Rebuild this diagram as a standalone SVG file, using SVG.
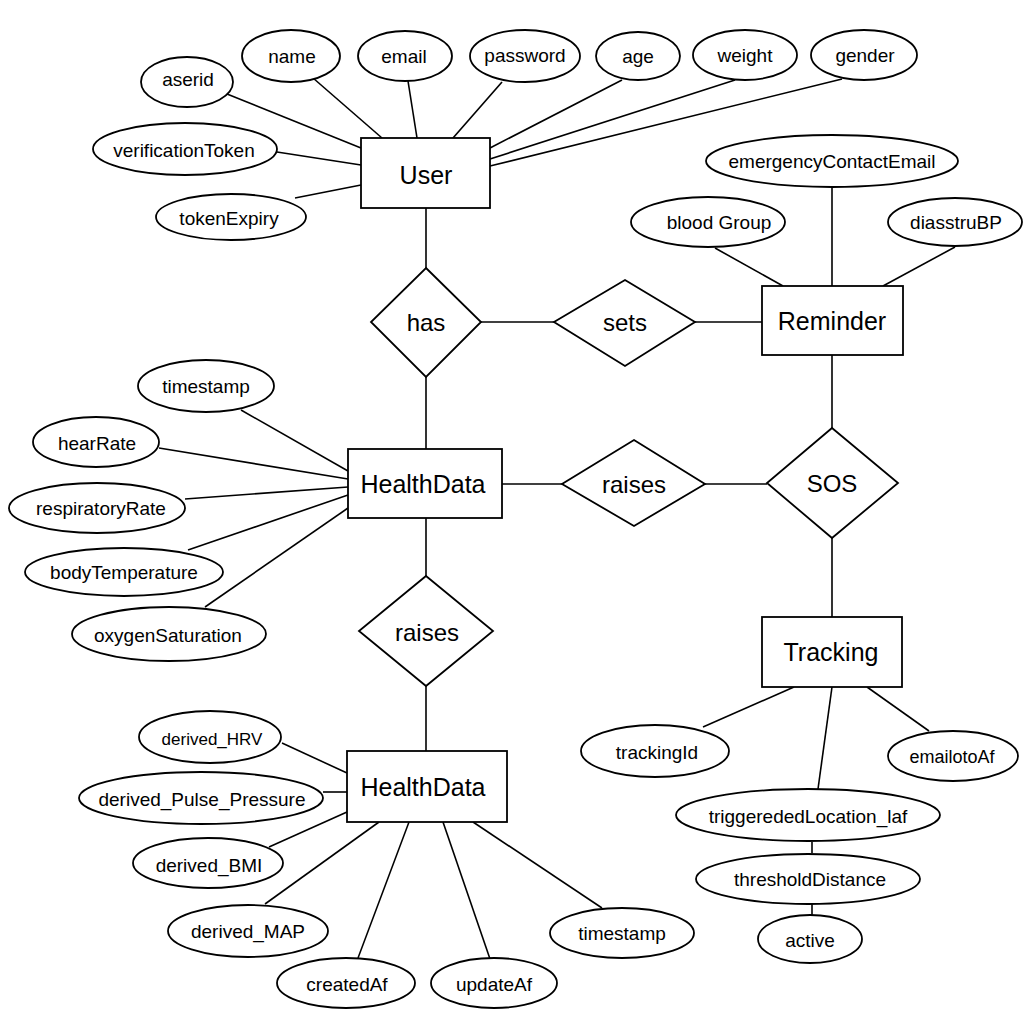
<svg xmlns="http://www.w3.org/2000/svg" width="1024" height="1024" viewBox="0 0 1024 1024">
<style>
  .bg { fill: #ffffff; }
  .ent rect { fill: #ffffff; stroke: #000; stroke-width: 1.8; }
  .rel polygon { fill: #ffffff; stroke: #000; stroke-width: 1.8; }
  .att ellipse { fill: #ffffff; stroke: #000; stroke-width: 1.8; }
  #connectors line { stroke: #000; stroke-width: 1.6; }
  text { font-family: "Liberation Sans", Arial, Helvetica, sans-serif; fill: #000; text-anchor: middle; dominant-baseline: central; }
  .et { font-size: 25px; }
  .rt { font-size: 24px; }
  .at { font-size: 19px; }
</style>
<rect class="bg" x="0" y="0" width="1024" height="1024"/>

<g id="connectors">
  <!-- User attributes -->
  <line x1="227" y1="94" x2="361" y2="148"/>
  <line x1="313" y1="78" x2="382" y2="138"/>
  <line x1="408" y1="81" x2="417" y2="138"/>
  <line x1="502" y1="82" x2="453" y2="138"/>
  <line x1="622" y1="80" x2="490" y2="148"/>
  <line x1="735" y1="80" x2="490" y2="159"/>
  <line x1="842" y1="79" x2="490" y2="166"/>
  <line x1="277" y1="152" x2="361" y2="165"/>
  <line x1="295" y1="198" x2="361" y2="185"/>
  <!-- Reminder attributes -->
  <line x1="832" y1="187" x2="832" y2="286"/>
  <line x1="715" y1="248" x2="783" y2="286"/>
  <line x1="955" y1="247" x2="883" y2="286"/>
  <!-- relationships -->
  <line x1="426" y1="208" x2="426" y2="268"/>
  <line x1="481" y1="322" x2="554" y2="322"/>
  <line x1="695" y1="322" x2="762" y2="322"/>
  <line x1="426" y1="377" x2="426" y2="449"/>
  <line x1="502" y1="484" x2="562" y2="484"/>
  <line x1="705" y1="484" x2="767" y2="484"/>
  <line x1="832" y1="355" x2="832" y2="428"/>
  <line x1="832" y1="538" x2="832" y2="617"/>
  <line x1="426" y1="518" x2="426" y2="576"/>
  <line x1="426" y1="686" x2="426" y2="751"/>
  <!-- HealthData attributes -->
  <line x1="241" y1="410" x2="348" y2="471"/>
  <line x1="159" y1="448" x2="348" y2="479"/>
  <line x1="185" y1="499" x2="348" y2="487"/>
  <line x1="188" y1="550" x2="348" y2="495"/>
  <line x1="205" y1="607" x2="348" y2="508"/>
  <!-- HealthData 2 attributes -->
  <line x1="282" y1="743" x2="347" y2="773"/>
  <line x1="323" y1="792" x2="347" y2="792"/>
  <line x1="269" y1="847" x2="347" y2="812"/>
  <line x1="265" y1="904" x2="379" y2="822"/>
  <line x1="358" y1="958" x2="409" y2="822"/>
  <line x1="490" y1="959" x2="443" y2="822"/>
  <line x1="602" y1="908" x2="473" y2="822"/>
  <!-- Tracking attributes -->
  <line x1="703" y1="727" x2="794" y2="687"/>
  <line x1="929" y1="731" x2="867" y2="687"/>
  <line x1="818" y1="789" x2="832" y2="687"/>
  <line x1="812" y1="842" x2="812" y2="853"/>
  <line x1="812" y1="904" x2="812" y2="915"/>
</g>

<!-- Entities -->
<g id="user" class="ent"><rect x="361" y="138" width="129" height="70"/><text class="et" x="426" y="175">User</text></g>
<g id="reminder" class="ent"><rect x="762" y="286" width="141" height="69"/><text class="et" x="832" y="321">Reminder</text></g>
<g id="healthdata" class="ent"><rect x="348" y="449" width="154" height="69"/><text class="et" x="423" y="484">HealthData</text></g>
<g id="tracking" class="ent"><rect x="762" y="617" width="140" height="70"/><text class="et" x="831" y="652">Tracking</text></g>
<g id="healthdata2" class="ent"><rect x="347" y="751" width="160" height="71"/><text class="et" x="423" y="787">HealthData</text></g>

<!-- Relationships -->
<g id="has" class="rel"><polygon points="426,268 481,322 426,377 371,322"/><text class="rt" x="426" y="322">has</text></g>
<g id="sets" class="rel"><polygon points="625,280 695,322 625,366 554,322"/><text class="rt" x="625" y="322">sets</text></g>
<g id="raises1" class="rel"><polygon points="634,440 705,484 634,526 562,484"/><text class="rt" x="634" y="484">raises</text></g>
<g id="sos" class="rel"><polygon points="832,428 898,483 832,538 767,483"/><text class="rt" x="832" y="483">SOS</text></g>
<g id="raises2" class="rel"><polygon points="426,576 493,631 426,686 359,631"/><text class="rt" x="427" y="632">raises</text></g>

<!-- User attributes -->
<g id="a-aserid" class="att"><ellipse cx="187" cy="82" rx="46" ry="25"/><text class="at" x="188" y="79">aserid</text></g>
<g id="a-name" class="att"><ellipse cx="291" cy="56" rx="49" ry="26"/><text class="at" x="292" y="56">name</text></g>
<g id="a-email" class="att"><ellipse cx="405" cy="56" rx="47" ry="25"/><text class="at" x="404" y="56">email</text></g>
<g id="a-password" class="att"><ellipse cx="525" cy="56" rx="55" ry="26"/><text class="at" x="525" y="55">password</text></g>
<g id="a-age" class="att"><ellipse cx="638" cy="56" rx="42" ry="24"/><text class="at" x="638" y="56">age</text></g>
<g id="a-weight" class="att"><ellipse cx="745" cy="55" rx="52" ry="25"/><text class="at" x="745" y="55">weight</text></g>
<g id="a-gender" class="att"><ellipse cx="864" cy="55" rx="53" ry="25"/><text class="at" x="865" y="55">gender</text></g>
<g id="a-verificationToken" class="att"><ellipse cx="185" cy="149" rx="92" ry="26"/><text class="at" x="184" y="150">verificationToken</text></g>
<g id="a-tokenExpiry" class="att"><ellipse cx="231" cy="217" rx="75" ry="23"/><text class="at" x="229" y="218">tokenExpiry</text></g>

<!-- Reminder attributes -->
<g id="a-emergencyContactEmail" class="att"><ellipse cx="832" cy="161" rx="126" ry="26"/><text class="at" x="832" y="161">emergencyContactEmail</text></g>
<g id="a-bloodGroup" class="att"><ellipse cx="708" cy="222" rx="77" ry="25"/><text class="at" x="719" y="222">blood Group</text></g>
<g id="a-diasstruBP" class="att"><ellipse cx="955" cy="222" rx="67" ry="24"/><text class="at" x="956" y="222">diasstruBP</text></g>

<!-- HealthData attributes -->
<g id="a-timestamp" class="att"><ellipse cx="206" cy="386" rx="68" ry="26"/><text class="at" x="206" y="386">timestamp</text></g>
<g id="a-hearRate" class="att"><ellipse cx="96" cy="442" rx="63" ry="25"/><text class="at" x="97" y="443">hearRate</text></g>
<g id="a-respiratoryRate" class="att"><ellipse cx="97" cy="508" rx="88" ry="25"/><text class="at" x="101" y="508">respiratoryRate</text></g>
<g id="a-bodyTemperature" class="att"><ellipse cx="124" cy="572" rx="99" ry="24"/><text class="at" x="124" y="572">bodyTemperature</text></g>
<g id="a-oxygenSaturation" class="att"><ellipse cx="169" cy="634" rx="97" ry="27"/><text class="at" x="168" y="635">oxygenSaturation</text></g>

<!-- HealthData 2 attributes -->
<g id="a-derived_HRV" class="att"><ellipse cx="210" cy="737" rx="71" ry="26"/><text class="at" x="212" y="739" style="font-size:17px">derived_HRV</text></g>
<g id="a-derived_Pulse_Pressure" class="att"><ellipse cx="201" cy="798" rx="122" ry="26"/><text class="at" x="202" y="799">derived_Pulse_Pressure</text></g>
<g id="a-derived_BMI" class="att"><ellipse cx="208" cy="863" rx="75" ry="25"/><text class="at" x="209" y="865">derived_BMI</text></g>
<g id="a-derived_MAP" class="att"><ellipse cx="248" cy="931" rx="80" ry="26"/><text class="at" x="248" y="931">derived_MAP</text></g>
<g id="a-createdAf" class="att"><ellipse cx="346" cy="983" rx="69" ry="25"/><text class="at" x="347" y="984">createdAf</text></g>
<g id="a-updateAf" class="att"><ellipse cx="494" cy="983" rx="63" ry="25"/><text class="at" x="494" y="984">updateAf</text></g>
<g id="a-timestamp2" class="att"><ellipse cx="622" cy="933" rx="72" ry="25"/><text class="at" x="622" y="933">timestamp</text></g>

<!-- Tracking attributes -->
<g id="a-trackingId" class="att"><ellipse cx="655" cy="751" rx="74" ry="26"/><text class="at" x="657" y="752">trackingId</text></g>
<g id="a-emailotoAf" class="att"><ellipse cx="953" cy="756" rx="65" ry="25"/><text class="at" x="952" y="757" style="font-size:18px">emailotoAf</text></g>
<g id="a-triggerededLocation_laf" class="att"><ellipse cx="808" cy="815" rx="132" ry="26"/><text class="at" x="808" y="816">triggerededLocation_laf</text></g>
<g id="a-thresholdDistance" class="att"><ellipse cx="808" cy="879" rx="112" ry="25"/><text class="at" x="810" y="879">thresholdDistance</text></g>
<g id="a-active" class="att"><ellipse cx="810" cy="939" rx="52" ry="24"/><text class="at" x="810" y="940">active</text></g>
</svg>
